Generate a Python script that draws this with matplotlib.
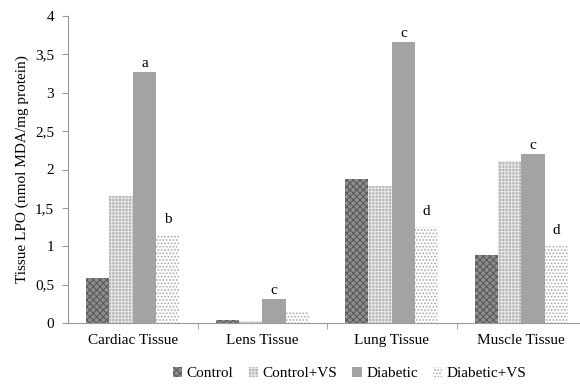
import numpy as np
import matplotlib.pyplot as plt

plt.rcParams['font.family'] = ['Liberation Serif', 'DejaVu Serif']
plt.rcParams['hatch.linewidth'] = 0.8

tissues = ["Cardiac Tissue", "Lens Tissue", "Lung Tissue", "Muscle Tissue"]
groups = ["Control", "Control+VS", "Diabetic", "Diabetic+VS"]
control = [0.58, 0.04, 1.87, 0.88]
control_vs = [1.66, 0.02, 1.78, 2.11]
diabetic = [3.27, 0.31, 3.66, 2.20]
diabetic_vs = [1.15, 0.16, 1.25, 1.00]
letters_diabetic = ["a", "c", "c", "c"]
letters_diabetic_vs = ["b", "", "d", "d"]

series = [control, control_vs, diabetic, diabetic_vs]
faces = ["#8e8e8e", "#b4b4b4", "#a3a3a3", "#ffffff"]
hatch_cols = ["#5a5a5a", "#e6e6e6", "#a3a3a3", "#a8a8a8"]
hatches = ["xxxxx", "+++++", "", "....."]

fig = plt.figure(figsize=(5.8, 3.84), dpi=100)
ax = fig.add_axes([68 / 580, 1 - 323 / 384, 518 / 580, 307 / 384])

x = np.arange(len(tissues))
w = 0.18
for i, vals in enumerate(series):
    ax.bar(x + (i - 1.5) * w, vals, w, color=faces[i], hatch=hatches[i],
           edgecolor=hatch_cols[i], linewidth=0, label=groups[i])

for i in range(len(tissues)):
    ax.text(x[i] + 0.5 * w, diabetic[i] + 0.03, letters_diabetic[i],
            ha="center", va="bottom", fontsize=11)
    if letters_diabetic_vs[i]:
        ax.text(x[i] + 1.5 * w, diabetic_vs[i] + 0.12, letters_diabetic_vs[i],
                ha="center", va="bottom", fontsize=11)

ax.set_xlim(-0.5, 3.5)
ax.set_ylim(0, 4)
ax.set_yticks(np.arange(0, 4.01, 0.5))
ax.set_yticklabels(["0", "0,5", "1", "1,5", "2", "2,5", "3", "3,5", "4"], fontsize=11)
ax.set_xticks(x)
ax.set_xticklabels(tissues, fontsize=11)
ax.set_xticks([0.5, 1.5, 2.5], minor=True)
ax.tick_params(axis="x", which="major", length=0, pad=8)
ax.tick_params(axis="x", which="minor", length=4, color="#999999")
ax.tick_params(axis="y", length=4, color="#999999", pad=6)
ax.set_ylabel("Tissue LPO (nmol MDA/mg protein)", fontsize=11)
for s in ["top", "right"]:
    ax.spines[s].set_visible(False)
ax.spines["left"].set_color("#999999")
ax.spines["bottom"].set_color("#999999")

ax.legend(loc="lower center", bbox_to_anchor=(0.544, -0.232), ncol=4,
          frameon=False, fontsize=11, handlelength=0.6, handleheight=0.6,
          handletextpad=0.3, columnspacing=1.0)

fig.savefig("out.png", dpi=100)
